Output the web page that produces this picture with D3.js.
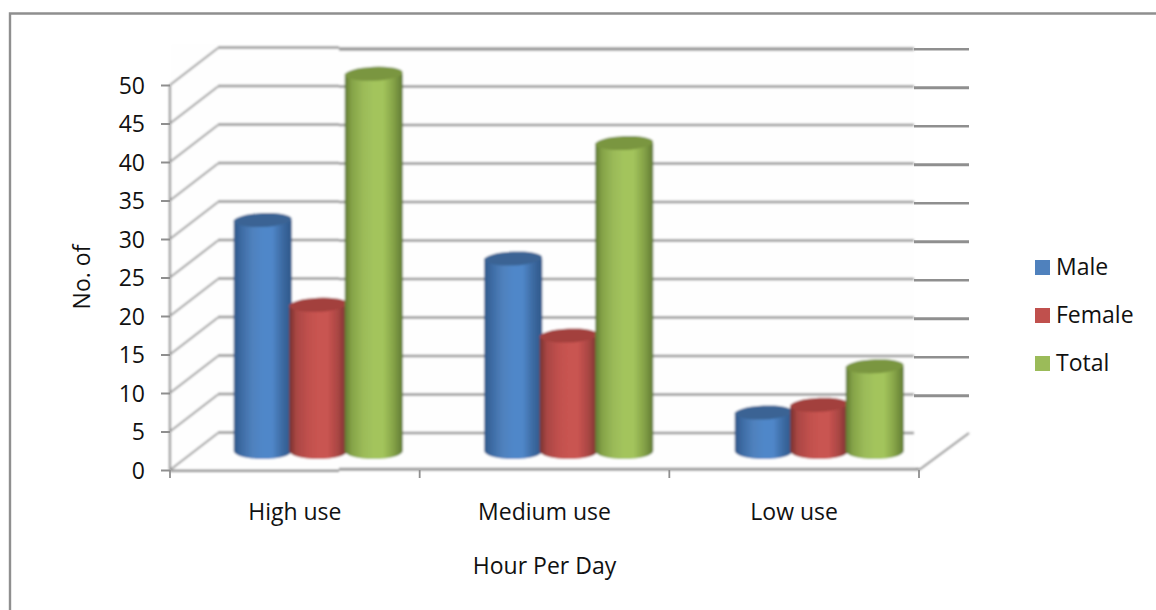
<!DOCTYPE html>
<html>
<head>
<meta charset="utf-8">
<script src="https://cdn.jsdelivr.net/npm/d3@7/dist/d3.min.js"></script>
<style>
  html, body { margin: 0; padding: 0; background: #fff; }
  svg { display: block; }
  text { font-family: "Open Sans", Lato, sans-serif; fill: #111; }
</style>
</head>
<body>
<svg id="chart" width="1156" height="610"></svg>
<script>
// Survey counts by daily usage band
const categories = ["High use", "Medium use", "Low use"];
const seriesNames = ["Male", "Female", "Total"];
const maleValues = [30, 25, 5];
const femaleValues = [19, 15, 6];
const totalValues = [49, 40, 11];
const yTicks = [0, 5, 10, 15, 20, 25, 30, 35, 40, 45, 50];
const xTitle = "Hour Per Day";
const yTitle = "No. of";

const seriesValues = [maleValues, femaleValues, totalValues];
const palettes = {
  Male:   { flat: "#4f81bd", edge: "#2f5788", side: "#3c6aa2", lit: "#5087c9", cap: "#3a6494" },
  Female: { flat: "#c0504d", edge: "#763230", side: "#a94643", lit: "#c95451", cap: "#a33f3c" },
  Total:  { flat: "#9bbb59", edge: "#607a34", side: "#85a347", lit: "#a3c45c", cap: "#7a9640" }
};
const labelSize = 23;

const svg = d3.select("#chart");
const defs = svg.append("defs");

// Soft edge shared by the plot's walls and cylinders
defs.append("filter").attr("id", "soft")
  .attr("x", "-2%").attr("y", "-2%").attr("width", "104%").attr("height", "104%")
  .append("feGaussianBlur").attr("stdDeviation", 0.8);

seriesNames.forEach(name => {
  const p = palettes[name];
  const g = defs.append("linearGradient").attr("id", "cyl-" + name)
    .attr("x1", 0).attr("x2", 1).attr("y1", 0).attr("y2", 0);
  [[0, p.edge], [0.12, p.side], [0.32, p.flat], [0.5, p.lit], [0.66, p.lit], [0.84, p.side], [1, p.edge]]
    .forEach(([o, c]) => g.append("stop").attr("offset", o).attr("stop-color", c));
});

const depthX = 48, depthY = 37;
const y = d3.scaleLinear().domain([0, 50]).range([470, 85]);
const x = d3.scaleBand().domain(categories).range([170, 919]);
const barX = d3.scaleBand().domain(categories).range([193, 944.5]);
const barY = d3.scaleLinear().domain([0, 50]).range([451, 66]);
const seriesX = d3.scalePoint().domain(seriesNames).range([-55.5, 55.5]);
const barHalf = 29;
const capRy = 7;
const baseRy = 8;

// Frame around the chart: top and left edges
svg.append("path")
  .attr("d", d3.line()([[10, 610], [10, 13.5], [1156, 13.5]]))
  .attr("fill", "none").attr("stroke", "#8f8f8f").attr("stroke-width", 2.4);

const plot = svg.append("g").attr("filter", "url(#soft)");

// Faint tint of the back wall
plot.append("rect")
  .attr("x", 170).attr("y", y(50) - depthY - 5)
  .attr("width", 745).attr("height", 425)
  .attr("fill", "#fefefe");

const backLeft = x.range()[0] + depthX;
const seamA = 339, seamB = 914, backRight = x.range()[1] + depthX + 2;

// Back-wall gridlines, with the side wall diagonals running to the axis
yTicks.forEach(t => {
  const by = y(t) - depthY;
  plot.append("line").attr("x1", x.range()[0]).attr("y1", y(t))
    .attr("x2", backLeft).attr("y2", by)
    .attr("stroke", "#9c9c9c").attr("stroke-width", 2);
  plot.append("line").attr("x1", backLeft).attr("y1", by - 0.5)
    .attr("x2", seamA).attr("y2", by - 0.5)
    .attr("stroke", "#949494").attr("stroke-width", 2.3);
  plot.append("line").attr("x1", seamA).attr("y1", t === 50 ? by + 1 : by)
    .attr("x2", seamB).attr("y2", t === 50 ? by + 1 : by)
    .attr("stroke", t === 50 ? "#969696" : "#949494").attr("stroke-width", t === 50 ? 3.6 : 2.5);
});

// Floor front edge and its far-right diagonal
plot.append("line").attr("x1", 170).attr("y1", 470.7).attr("x2", seamA).attr("y2", 470.7)
  .attr("stroke", "#989898").attr("stroke-width", 2.4);
plot.append("line").attr("x1", seamA).attr("y1", 469.2).attr("x2", x.range()[1]).attr("y2", 469.2)
  .attr("stroke", "#909090").attr("stroke-width", 2.8);
plot.append("line").attr("x1", x.range()[1]).attr("y1", y(0))
  .attr("x2", x.range()[1] + depthX + 2).attr("y2", y(0) - depthY)
  .attr("stroke", "#989898").attr("stroke-width", 2);

// Vertical axis line
plot.append("line").attr("x1", 170).attr("y1", y(50)).attr("x2", 170).attr("y2", 470)
  .attr("stroke", "#949494").attr("stroke-width", 2.2);

// Cylinders, drawn left to right so each one overlaps the previous
seriesNames.forEach((name, s) => {
  const p = palettes[name];
  categories.forEach((cat, c) => {
    const cx = barX(cat) + barX.bandwidth() / 2 + seriesX(name);
    const top = barY(seriesValues[s][c]);
    const base = barY(0);
    const l = cx - barHalf, r = cx + barHalf;
    plot.append("path")
      .attr("d", `M${l},${top} L${l},${base} A${barHalf},${baseRy} 0 0 0 ${r},${base} L${r},${top} Z`)
      .attr("fill", `url(#cyl-${name})`);
    plot.append("ellipse")
      .attr("cx", cx).attr("cy", top)
      .attr("rx", barHalf).attr("ry", capRy)
      .attr("transform", `rotate(-2.5 ${cx} ${top})`)
      .attr("fill", p.cap);
  });
});

// Crisp darker segments of the gridlines beyond the right seam
const rightEdge = svg.append("g");
yTicks.forEach(t => {
  const by = y(t) - depthY;
  if (t === 0) return;
  rightEdge.append("line").attr("x1", seamB).attr("y1", by + 1.2)
    .attr("x2", backRight).attr("y2", by + 1.2)
    .attr("stroke", "#8f8f8f").attr("stroke-width", t % 10 === 0 ? 2.4 : 3);
});

// Axis ticks via d3 axes, labels styled below
const yAxis = d3.axisLeft(y).tickValues(yTicks).tickSize(9).tickPadding(16);
const yG = svg.append("g").attr("transform", "translate(170,0)").call(yAxis);
yG.select(".domain").remove();
yG.selectAll("line").attr("stroke", "#8f8f8f").attr("stroke-width", 2);
yG.selectAll("text").attr("font-size", labelSize).attr("y", 1).style("font-family", "Open Sans").attr("fill", "#111");

const xAxis = d3.axisBottom(x).tickSize(0).tickPadding(34);
const xG = svg.append("g").attr("transform", "translate(0,470)").call(xAxis);
xG.select(".domain").remove();
xG.selectAll("text").attr("font-size", labelSize).style("font-family", "Open Sans").attr("fill", "#111");

// Tick marks on the category boundaries
const bounds = categories.map(c => x(c)).concat([x.range()[1]]);
svg.append("g").selectAll("line").data(bounds).join("line")
  .attr("x1", d => d).attr("x2", d => d).attr("y1", 470).attr("y2", 478)
  .attr("stroke", "#8f8f8f").attr("stroke-width", 1.8);

// Axis titles
svg.append("text").attr("x", 544.5).attr("y", 574)
  .attr("text-anchor", "middle").attr("font-size", labelSize).text(xTitle);
svg.append("text").attr("transform", "translate(90,277) rotate(-90)")
  .attr("text-anchor", "middle").attr("font-size", labelSize).text(yTitle);

// Legend
const legendY = d3.scalePoint().domain(seriesNames).range([267.5, 363.5]);
const legend = svg.append("g").selectAll("g").data(seriesNames).join("g")
  .attr("transform", d => `translate(1035,${legendY(d)})`);
legend.append("rect").attr("x", 0).attr("y", -7.5).attr("width", 15).attr("height", 15)
  .attr("fill", d => palettes[d].flat);
legend.append("text").attr("x", 21).attr("y", 7.5).attr("font-size", labelSize).text(d => d);
</script>
</body>
</html>
